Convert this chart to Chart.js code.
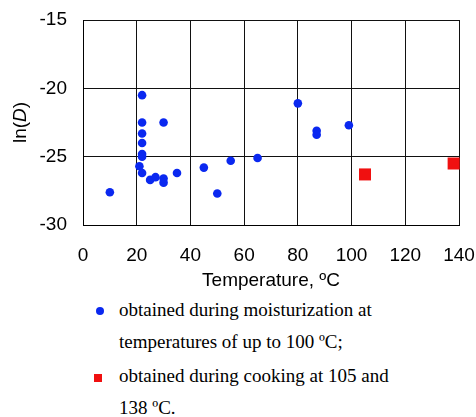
<!DOCTYPE html>
<html>
<head>
<meta charset="utf-8">
<script src="https://cdn.jsdelivr.net/npm/chart.js@4.4.1/dist/chart.umd.min.js"></script>
<style>
  html, body { margin: 0; padding: 0; background: #fff; }
  #wrap { position: relative; width: 476px; height: 417px; }
  #myChart { position: absolute; left: 0; top: 0; }
  #legend { position: absolute; left: 0; top: 0; width: 476px; font-family: "Liberation Serif", "Times New Roman", serif; font-size: 19px; color: #000; }
  .item { position: absolute; left: 119px; line-height: 32px; white-space: nowrap; }
  .mark { position: absolute; }
</style>
</head>
<body>
<div id="wrap">
  <canvas id="myChart" width="476" height="290"></canvas>
  <div id="legend"></div>
</div>
<script>
// blue: moisturization up to 100 C
const moistTemp = [10, 22, 22, 22, 22, 22, 22, 21, 22, 25, 27, 30, 30, 30, 35, 45, 50, 55, 65, 80, 87, 87, 99];
const moistLnD = [-27.6, -20.5, -22.5, -23.3, -24.0, -24.8, -25.0, -25.7, -26.2, -26.7, -26.5, -26.6, -26.9, -22.5, -26.2, -25.8, -27.7, -25.3, -25.1, -21.1, -23.1, -23.4, -22.7];
// red: cooking
const cookTemp = [105, 138];
const cookLnD = [-26.3, -25.5];

const xTicks = [0, 20, 40, 60, 80, 100, 120, 140];
const yTicks = [-30, -25, -20, -15];

const legendLabels = [
    ['obtained during moisturization at', 'temperatures of up to 100 \u00baC;'],
    ['obtained during cooking at 105 and', '138 \u00baC.']
];

function toPoints(xs, ys){
    return xs.map((x, i) => ({ x: x, y: ys[i] }));
}

const tickFont = { family: '"Liberation Sans", Arial, sans-serif', size: 19 };

// plot box in the reference
const area = { left: 83, top: 20, right: 459, bottom: 225 };

// pin the plot area where the reference has it
const fixAreaPlugin = {
    id: 'fixArea',
    afterLayout(chart){
        const ca = chart.chartArea;
        ca.left = area.left; ca.top = area.top; ca.right = area.right; ca.bottom = area.bottom;
        ca.width = area.right - area.left; ca.height = area.bottom - area.top;
        const x = chart.scales.x, y = chart.scales.y;
        x.left = area.left; x.right = area.right; x.top = area.bottom; x.bottom = chart.height;
        x.width = x.right - x.left; x.height = x.bottom - x.top;
        y.left = 0; y.right = area.left; y.top = area.top; y.bottom = area.bottom;
        y.width = y.right - y.left; y.height = y.bottom - y.top;
        x.configure();
        y.configure();
    }
};

// y title with italic D
const yTitlePlugin = {
    id: 'yTitle',
    afterDraw(chart){
        const c = chart.ctx;
        const cy = (chart.chartArea.top + chart.chartArea.bottom) / 2;
        const parts = [['ln(', ''], ['D', 'italic '], [')', '']];
        c.save();
        c.translate(21, cy);
        c.rotate(-Math.PI / 2);
        c.fillStyle = '#000';
        c.textBaseline = 'middle';
        let total = 0;
        parts.forEach(p => { c.font = p[1] + '19px "Liberation Sans", Arial, sans-serif'; total += c.measureText(p[0]).width; });
        let x = -total / 2;
        parts.forEach(p => {
            c.font = p[1] + '19px "Liberation Sans", Arial, sans-serif';
            c.fillText(p[0], x, 0);
            x += c.measureText(p[0]).width;
        });
        c.restore();
    }
};

const ctx = document.getElementById('myChart').getContext('2d');

const myChart = new Chart(ctx, {
    type: 'scatter',
    data: {
        datasets: [{
            label: legendLabels[0].join(' '),
            data: toPoints(moistTemp, moistLnD),
            pointStyle: 'circle',
            pointRadius: 4.3,
            backgroundColor: '#0a28f0',
            borderColor: '#0a28f0',
            borderWidth: 0
        }, {
            label: legendLabels[1].join(' '),
            data: toPoints(cookTemp, cookLnD),
            pointStyle: 'rect',
            pointRadius: 8.5,
            backgroundColor: '#f01010',
            borderColor: '#f01010',
            borderWidth: 0,
            clip: false
        }]
    },
    options: {
        responsive: false,
        animation: false,
        plugins: {
            legend: { display: false },
            tooltip: { enabled: false }
        },
        scales: {
            x: {
                type: 'linear',
                min: 0,
                max: 140,
                afterBuildTicks(scale){ scale.ticks = xTicks.map(v => ({ value: v })); },
                grid: { color: '#111', lineWidth: 1, drawTicks: false },
                border: { color: '#000', width: 1 },
                ticks: { color: '#000', font: tickFont, padding: 19, maxRotation: 0 },
                title: { display: true, text: 'Temperature, \u00baC', color: '#000', font: tickFont, padding: { top: 0, bottom: -2 } }
            },
            y: {
                type: 'linear',
                min: -30,
                max: -15,
                afterBuildTicks(scale){ scale.ticks = yTicks.map(v => ({ value: v })); },
                grid: { color: '#111', lineWidth: 1, drawTicks: false },
                border: { color: '#000', width: 1 },
                ticks: { color: '#000', font: tickFont, padding: 16 }
            }
        }
    },
    plugins: [fixAreaPlugin, yTitlePlugin]
});

// legend below the plot, built from the datasets
const legendTops = [294, 360];
const legendDiv = document.getElementById('legend');
myChart.data.datasets.forEach((ds, i) => {
    const item = document.createElement('div');
    item.className = 'item';
    item.style.top = legendTops[i] + 'px';
    item.innerHTML = legendLabels[i].join('<br>');
    legendDiv.appendChild(item);
    const m = document.createElement('div');
    m.className = 'mark';
    m.style.background = ds.backgroundColor;
    if (ds.pointStyle === 'circle') {
        m.style.left = '96px'; m.style.top = (legendTops[i] + 13) + 'px';
        m.style.width = '8px'; m.style.height = '8px'; m.style.borderRadius = '50%';
    } else {
        m.style.left = '94px'; m.style.top = (legendTops[i] + 14) + 'px';
        m.style.width = '8px'; m.style.height = '8px';
    }
    legendDiv.appendChild(m);
});
</script>
</body>
</html>
